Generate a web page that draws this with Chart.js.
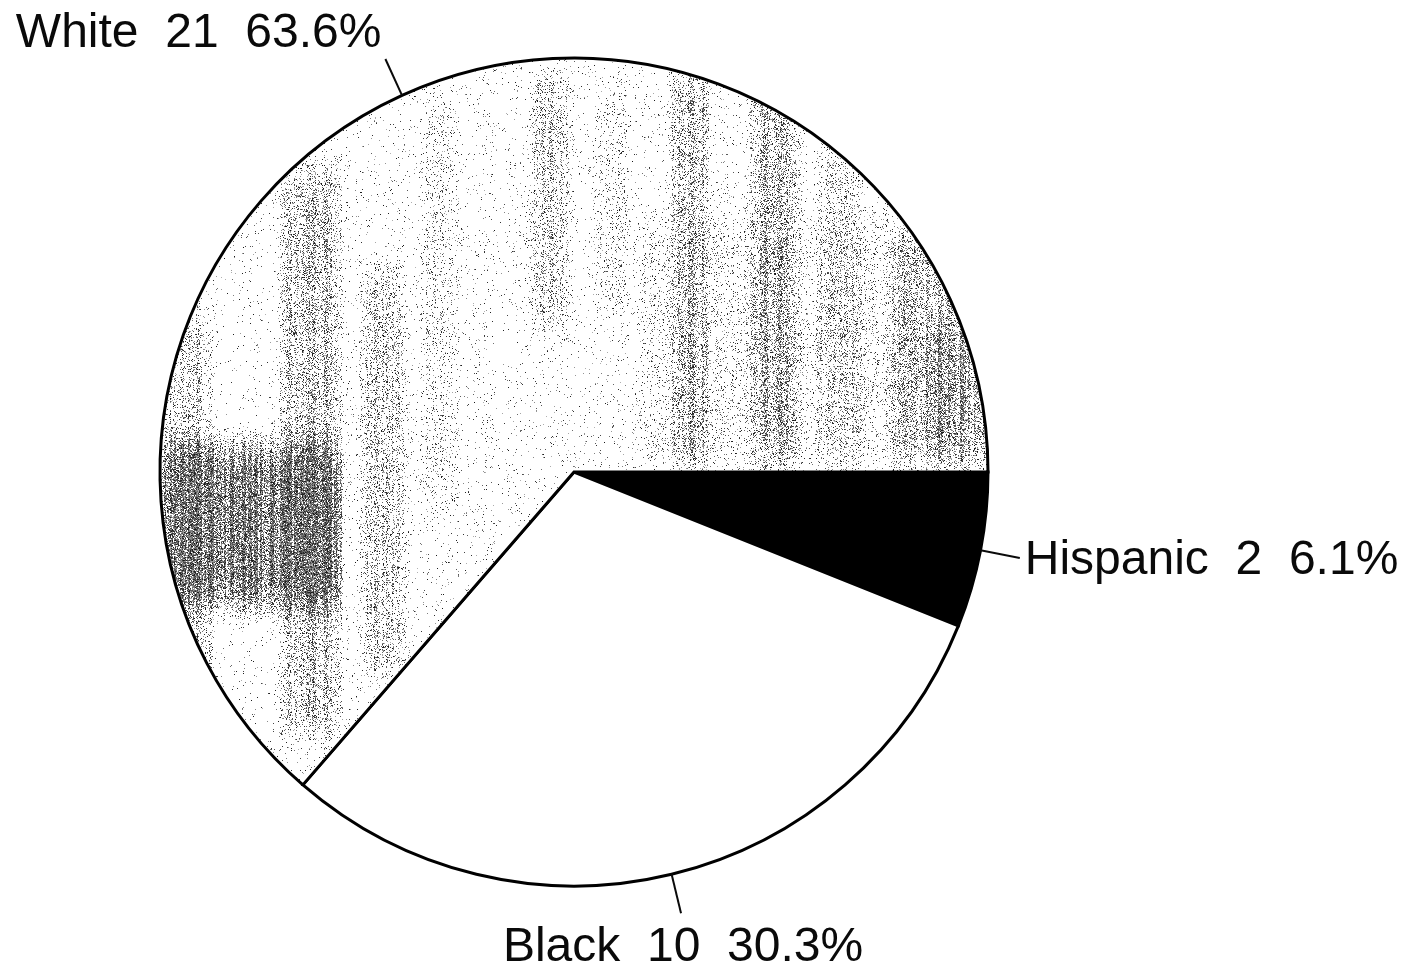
<!DOCTYPE html>
<html>
<head>
<meta charset="utf-8">
<title>Race breakdown</title>
<script src="https://cdn.jsdelivr.net/npm/chart.js@4.4.1/dist/chart.umd.min.js"></script>
<style>
  html, body { margin: 0; padding: 0; background: #ffffff; }
  canvas { display: block; }
</style>
</head>
<body>
<canvas id="chart" width="1413" height="971"></canvas>
<script>
// Slice data, drawn clockwise from 3 o'clock
const categories = ['Hispanic', 'Black', 'White'];
const counts = [2, 10, 21];
const percents = ['6.1', '30.3', '63.6'];

const W = 1413, H = 971;

// Deterministic integer hash -> [0,1)
function hash(x, y, s) {
  let h = Math.imul(x, 374761393) ^ Math.imul(y, 668265263) ^ Math.imul(s + 1, 2246822519);
  h = Math.imul(h ^ (h >>> 13), 1274126177);
  h ^= h >>> 16;
  return (h >>> 0) / 4294967296;
}

function smooth(a, b, v) {
  const t = Math.min(1, Math.max(0, (v - a) / (b - a)));
  return t * t * (3 - 2 * t);
}

// Speckled, streaky grey fill used for the "White" slice
function makeSpeckle(ctx) {
  const c = document.createElement('canvas');
  c.width = W; c.height = H;
  const g = c.getContext('2d');
  const img = g.createImageData(W, H);
  const px = img.data;
  const bands = [
    [165, 205, 330, 720, 0.22],
    [285, 335, 180, 720, 0.28],
    [365, 400, 280, 660, 0.20],
    [425, 455, 120, 500, 0.08],
    [535, 565, 90, 320, 0.18],
    [600, 625, 100, 300, 0.08],
    [675, 705, 80, 460, 0.24],
    [755, 795, 100, 450, 0.30],
    [820, 860, 150, 450, 0.14],
    [895, 960, 250, 450, 0.20],
    [930, 985, 330, 450, 0.28],
    [640, 990, 230, 450, 0.07],
    [165, 335, 460, 590, 0.85]
  ];
  const colMod = new Float32Array(W);
  for (let x = 0; x < W; x++) colMod[x] = 0.45 + 1.1 * hash(x >> 1, 0, 7);
  for (let y = 0; y < H; y++) {
    for (let x = 0; x < W; x++) {
      let d = 0.025;
      for (const b of bands) {
        if (x < b[0] - 12 || x > b[1] + 12 || y < b[2] - 40 || y > b[3] + 40) continue;
        const fx = smooth(b[0] - 12, b[0] + 6, x) * (1 - smooth(b[1] - 6, b[1] + 12, x));
        const fy = smooth(b[2] - 40, b[2] + 20, y) * (1 - smooth(b[3] - 20, b[3] + 40, y));
        d += b[4] * fx * fy;
      }
      d = Math.min(0.88, d * colMod[x]);
      const i = (y * W + x) * 4;
      let v = 255;
      if (hash(x, y, 1) < d) v = 20 + 160 * hash(x, y, 3);
      px[i] = px[i + 1] = px[i + 2] = v;
      px[i + 3] = 255;
    }
  }
  g.putImageData(img, 0, 0);
  return ctx.createPattern(c, 'no-repeat');
}

const canvas = document.getElementById('chart');
const ctx = canvas.getContext('2d');
const speckle = makeSpeckle(ctx);

// Leader lines and "Name  n  pct%" labels outside each slice
const calloutPlugin = {
  id: 'callouts',
  afterDatasetsDraw(chart) {
    const c = chart.ctx;
    const arcs = chart.getDatasetMeta(0).data;
    c.save();
    c.font = '48px "Liberation Sans", Arial, sans-serif';
    c.fillStyle = '#0a0a0a';
    c.strokeStyle = '#0a0a0a';
    c.lineWidth = 2;
    arcs.forEach((arc, i) => {
      const mid = (arc.startAngle + arc.endAngle) / 2;
      const cos = Math.cos(mid), sin = Math.sin(mid);
      const r = arc.outerRadius;
      const sx = arc.x + cos * r, sy = arc.y + sin * r;
      const ex = arc.x + cos * (r + 40), ey = arc.y + sin * (r + 40);
      c.beginPath();
      c.moveTo(sx, sy);
      c.lineTo(ex, ey);
      c.stroke();
      const text = categories[i] + '  ' + counts[i] + '  ' + percents[i] + '%';
      c.textBaseline = 'alphabetic';
      if (cos > 0.6) {
        c.textAlign = 'left';
        c.fillText(text, ex + 5, ey + 16);
      } else if (sin > 0.6) {
        c.textAlign = 'center';
        c.fillText(text, ex + 2, ey + 48);
      } else {
        c.textAlign = 'right';
        c.fillText(text, ex - 4, ey - 12);
      }
    });
    c.restore();
  }
};

new Chart(ctx, {
  type: 'pie',
  data: {
    labels: categories,
    datasets: [{
      data: counts,
      backgroundColor: ['#000000', '#ffffff', speckle],
      borderColor: '#000000',
      borderWidth: 3,
      borderJoinStyle: 'miter'
    }]
  },
  options: {
    responsive: false,
    animation: false,
    rotation: 90,
    radius: 414,
    layout: { padding: { left: 154, right: 419, top: 52, bottom: 79 } },
    plugins: {
      legend: { display: false },
      tooltip: { enabled: false }
    }
  },
  plugins: [calloutPlugin]
});
</script>
</body>
</html>
